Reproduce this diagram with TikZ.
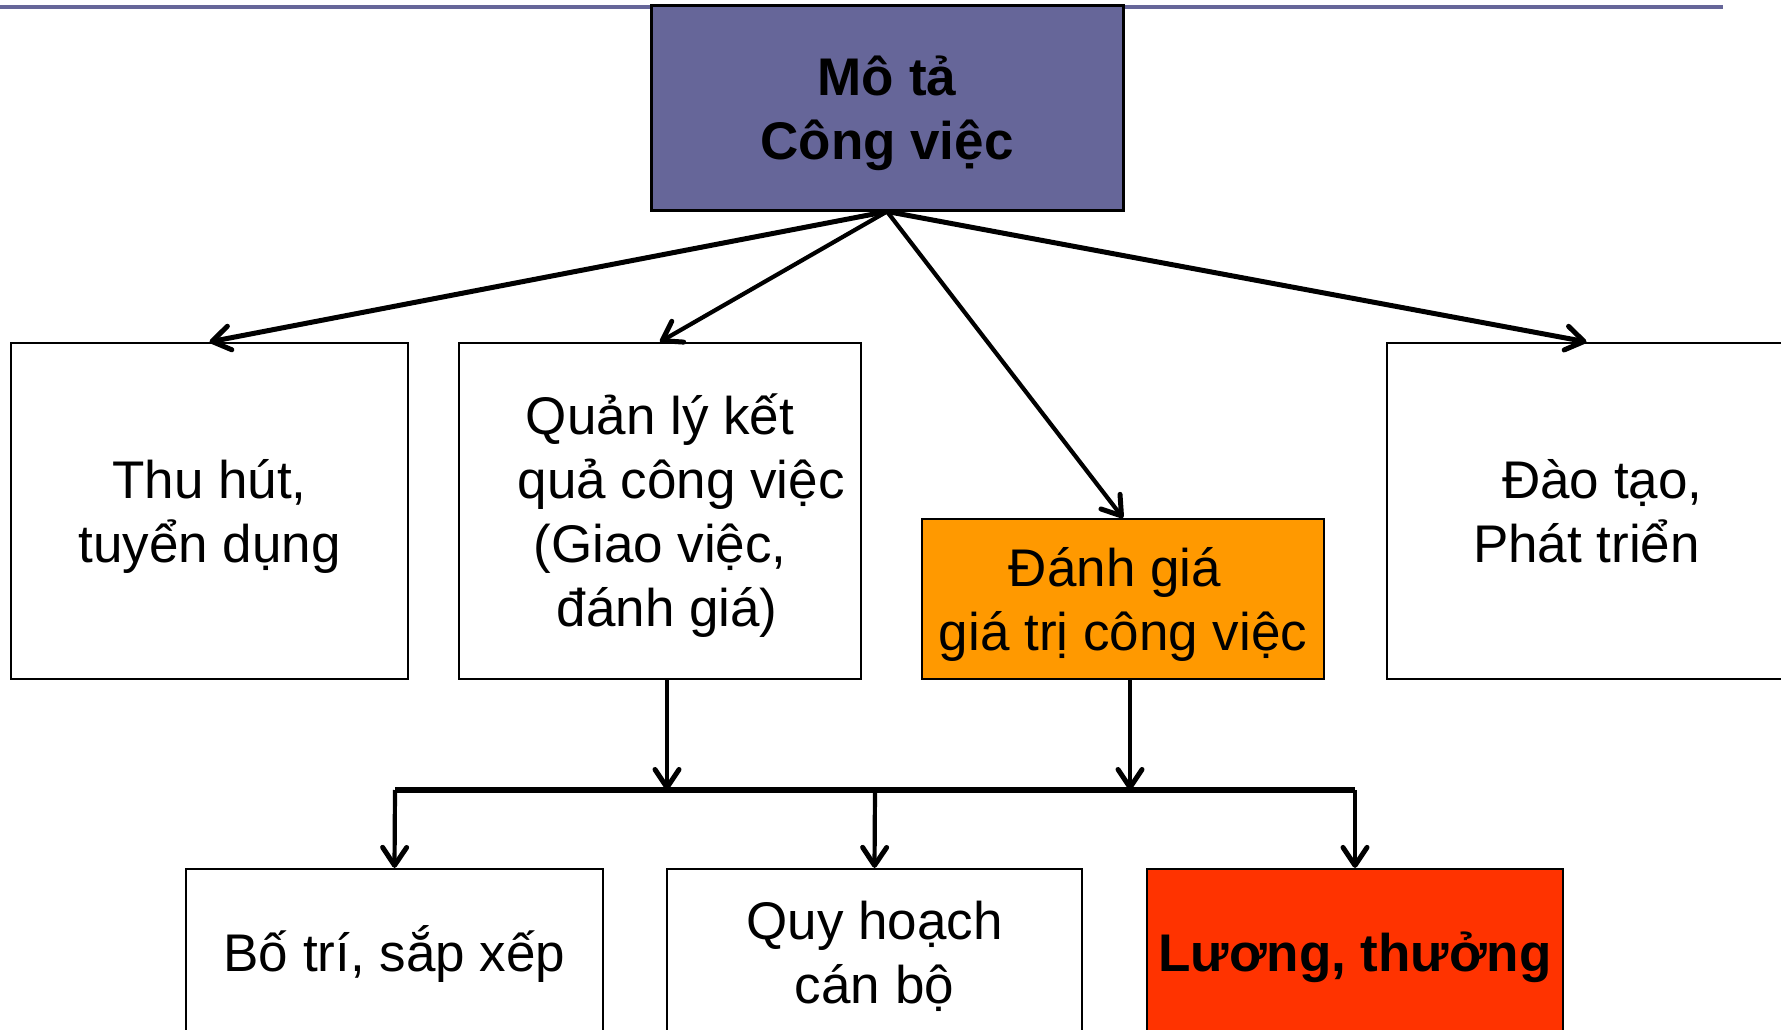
\documentclass[tikz,border=0pt]{standalone}
\usepackage{fontspec}
\setmainfont{Liberation Sans}
\usetikzlibrary{arrows.meta}
\definecolor{topblue}{HTML}{666699}
\definecolor{orangebox}{HTML}{FF9900}
\definecolor{redbox}{HTML}{FF3300}
\newcommand{\topstrut}{\rule{0pt}{54pt}}
\newcommand{\botstrut}{\rule[-15pt]{0pt}{0pt}}
\tikzset{
  box/.style={draw=black, line width=2.2pt, inner sep=0pt, align=center,
    font=\fontsize{53}{64}\selectfont},
  boldbox/.style={box, line width=3pt, font=\fontsize{53}{64}\selectfont\bfseries},
  arr/.style={-{Straight Barb[length=18pt,width=24pt,line width=5pt,round]}, line width=5pt},
  arrthin/.style={-{Straight Barb[length=18pt,width=24pt,line width=5pt,round]}, line width=4.2pt},
  bus/.style={line width=6pt}
}
\begin{document}
\begin{tikzpicture}[x=1pt,y=-1pt]
\useasboundingbox (0,0) rectangle (1781,1030);
\clip (0,0) rectangle (1781,1030);
% top rule
\draw[topblue, line width=3.5pt] (0,7) -- (1723,7);
% nodes
\node[boldbox, fill=topblue, minimum width=472pt, minimum height=204pt] (mota) at (887,108) {\topstrut Mô tả\\Công việc\botstrut};
\node[box, minimum width=397pt, minimum height=336pt] (thuhut) at (209.5,511) {\topstrut Thu hút,\\tuyển dụng\botstrut};
\node[box, minimum width=402pt, minimum height=336pt] (quanly) at (660,511) {\topstrut Quản lý kết\\\hspace*{0.8em}quả công việc\\(Giao việc,\\\hspace*{0.27em}đánh giá)\botstrut};
\node[box, fill=orangebox, minimum width=402pt, minimum height=160pt] (danhgia) at (1123,599) {\topstrut\hspace*{-0.3em}Đánh giá\\giá trị công việc\botstrut};
\node[box, minimum width=399pt, minimum height=336pt] (daotao) at (1586.5,511) {\topstrut\hspace*{0.6em}Đào tạo,\\Phát triển\botstrut};
\node[box, minimum width=417pt, minimum height=166pt] (botri) at (394.5,952) {\topstrut Bố trí, sắp xếp\botstrut};
\node[box, minimum width=415pt, minimum height=166pt] (quyhoach) at (874.5,952) {\topstrut Quy hoạch\\cán bộ\botstrut};
\node[boldbox, line width=2.2pt, fill=redbox, minimum width=416pt, minimum height=166pt] (luong) at (1355,952) {\topstrut Lương, thưởng\botstrut};
% bus coordinates
\coordinate (busL) at (395,790);
\coordinate (busR) at (1355,790);
\coordinate (busM) at (875,790);
\coordinate (qlout) at (667,679);
\coordinate (qlin) at (667,790);
\coordinate (dgout) at (1130,679);
\coordinate (dgin) at (1130,790);
% top arrows
\draw[arr] (mota.south) -- (thuhut.north);
\draw[arrthin] (mota.south) -- (quanly.north);
\draw[arrthin] (mota.south) -- (danhgia.north);
\draw[arr] (mota.south) -- (daotao.north);
% bus
\draw[bus] (busL) -- (busR);
\draw[arrthin] (qlout) -- (qlin);
\draw[arrthin] (dgout) -- (dgin);
\draw[arrthin] (busL) -- (botri.north);
\draw[arrthin] (busM) -- (quyhoach.north);
\draw[arrthin] (busR) -- (luong.north);
\end{tikzpicture}
\end{document}
